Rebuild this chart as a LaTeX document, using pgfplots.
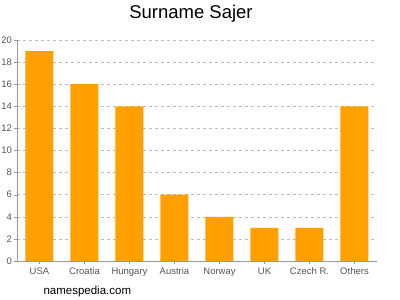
\documentclass[border=0pt]{standalone}
\usepackage{pgfplots}
\pgfplotsset{compat=1.18}
\usepackage{fontspec}
\setmainfont{Liberation Sans}
\definecolor{barorange}{HTML}{FFA000}
\definecolor{gridgray}{HTML}{BBBBBB}
\definecolor{axisgray}{HTML}{999999}
\definecolor{labelgray}{HTML}{555555}
\begin{document}
\begin{tikzpicture}[x=1pt,y=1pt]
\path[use as bounding box] (0,0) rectangle (400,300);
\begin{axis}[
  at={(17pt,39pt)}, anchor=south west,
  scale only axis, width=360pt, height=221pt,
  ymin=0, ymax=20, ytick={0,2,...,20},
  xmin=-0.5, xmax=7.5,
  xtick=data,
  xticklabels={USA,Croatia,Hungary,Austria,Norway,UK,Czech R.,Others},
  axis lines*=left,
  axis line style={axisgray},
  tick style={axisgray},
  tick align=outside,
  major tick length=3pt,
  ymajorgrids,
  grid style={gridgray, dashed},
  ticklabel style={font=\fontsize{9.5}{11}\selectfont, text=labelgray},
  /pgf/number format/assume math mode=true,
  yticklabel style={xshift=1.5pt},
  ybar, bar width=28pt,
  enlarge x limits=false,
]
\addplot[fill=barorange, draw=none] coordinates {
(0,19) (1,16) (2,14) (3,6) (4,4) (5,3) (6,3) (7,14)};
\end{axis}
\node[font=\fontsize{18.5}{20}\selectfont] at (191,286) {Surname Sajer};
\node[font=\fontsize{11.5}{13}\selectfont, anchor=west] at (40,8) {namespedia.com};
\end{tikzpicture}
\end{document}
